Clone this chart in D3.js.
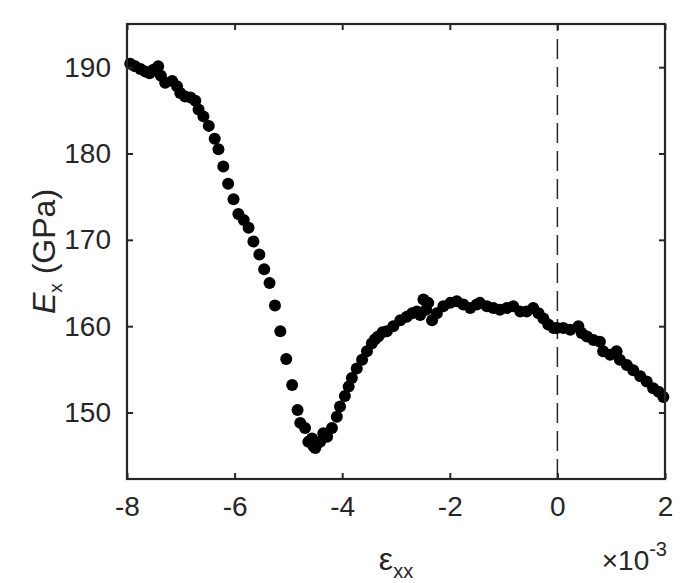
<!DOCTYPE html>
<html>
<head>
<meta charset="utf-8">
<script src="https://cdn.jsdelivr.net/npm/d3@7"></script>
<style>
  body { margin: 0; background: #fff; }
  text { font-family: "Liberation Sans", Arial, Helvetica, sans-serif; fill: #262626; }
</style>
</head>
<body>
<svg id="chart"></svg>
<script>
// strain (x 10^-3)
const strainXX = [
    -7.94, -7.85, -7.75, -7.66, -7.58, -7.51, -7.42, -7.37, -7.29, -7.16,
    -7.07, -7.01, -6.92, -6.82, -6.73, -6.67, -6.58, -6.48, -6.37, -6.30,
    -6.21, -6.12, -6.02, -5.93, -5.83, -5.74, -5.65, -5.54, -5.45, -5.35,
    -5.25, -5.15, -5.04, -4.93, -4.83, -4.78, -4.69, -4.63, -4.56, -4.53,
    -4.50, -4.47, -4.41, -4.35, -4.28, -4.19, -4.10, -4.04, -3.95, -3.88,
    -3.82, -3.73, -3.63, -3.54, -3.45, -3.39, -3.33, -3.25, -3.17, -3.05,
    -2.92, -2.80, -2.70, -2.61, -2.55, -2.49, -2.44, -2.40, -2.33, -2.24,
    -2.12, -1.99, -1.87, -1.75, -1.62, -1.50, -1.44, -1.31, -1.19, -1.07,
    -0.94, -0.82, -0.69, -0.57, -0.45, -0.35, -0.26, -0.17, -0.07, -0.01,
    0.11, 0.24, 0.39, 0.45, 0.55, 0.67, 0.79, 0.85, 0.98, 1.10,
    1.16, 1.29, 1.41, 1.54, 1.66, 1.78, 1.88, 1.97
];
// Young's modulus E_x (GPa)
const modulusEx = [
    190.4, 190.1, 189.8, 189.5, 189.3, 189.7, 190.1, 189.0, 188.2, 188.4,
    187.8, 187.0, 186.6, 186.5, 186.1, 185.1, 184.3, 183.2, 181.7, 180.5,
    178.5, 176.5, 174.7, 173.0, 172.3, 171.4, 169.8, 168.3, 166.6, 165.0,
    162.4, 159.4, 156.2, 153.2, 150.3, 148.8, 148.2, 146.6, 147.0, 146.1,
    145.9, 146.4, 146.6, 147.6, 147.2, 148.2, 149.5, 150.7, 151.9, 153.0,
    154.0, 155.1, 156.1, 157.1, 158.0, 158.5, 158.8, 159.3, 159.4, 160.0,
    160.7, 161.1, 161.5, 161.7, 161.3, 163.1, 161.9, 162.7, 160.7, 161.5,
    162.3, 162.7, 162.9, 162.5, 162.1, 162.5, 162.7, 162.3, 162.1, 161.9,
    162.1, 162.3, 161.7, 161.7, 162.1, 161.5, 160.9, 160.2, 159.8, 159.8,
    159.8, 159.6, 160.0, 159.2, 158.8, 158.4, 158.2, 157.1, 156.7, 157.1,
    156.1, 155.5, 154.9, 154.2, 153.6, 152.8, 152.4, 151.8
];
const xTicks = [-8, -6, -4, -2, 0, 2];
const yTicks = [150, 160, 170, 180, 190];

let width = 700;
let height = 583;
let marginLeft = 127;
let marginTop = 24;
let marginRight = 35;
let marginBottom = 104;

let svg = d3.select("#chart")
    .attr("width", width)
    .attr("height", height);

let scaleX = d3.scaleLinear()
    .domain([-8, 2])
    .range([marginLeft, width - marginRight]);
let scaleY = d3.scaleLinear()
    .domain([142.3, 195])
    .range([height - marginBottom, marginTop]);

let axisColor = "#262626";
let tickLen = 6;
let x0 = scaleX.range()[0], x1 = scaleX.range()[1];
let y0 = scaleY.range()[0], y1 = scaleY.range()[1];
let fmt = (d) => d < 0 ? "-" + Math.abs(d) : String(d);

// dashed line at zero strain
svg.append("line")
    .attr("x1", scaleX(0)).attr("x2", scaleX(0))
    .attr("y1", y0).attr("y2", y1)
    .attr("stroke", "#262626")
    .attr("stroke-width", 1.5)
    .attr("stroke-dasharray", "20,8");

// data points
svg.selectAll(".dot")
    .data(strainXX)
    .enter()
    .append("circle")
    .attr("class", "dot")
    .attr("cx", (d) => scaleX(d))
    .attr("cy", (d, i) => scaleY(modulusEx[i]))
    .attr("r", 6)
    .attr("fill", "#000");

// axes, ticks inside like MATLAB
svg.append("g")
    .attr("class", "labeled")
    .attr("transform", `translate(0, ${y0})`)
    .call(d3.axisBottom(scaleX).tickValues(xTicks).tickSizeInner(-tickLen).tickSizeOuter(0).tickPadding(17).tickFormat(fmt))
    .call(g => g.select(".domain").remove());
svg.append("g")
    .attr("transform", `translate(0, ${y1})`)
    .call(d3.axisTop(scaleX).tickValues(xTicks).tickSizeInner(-tickLen).tickSizeOuter(0).tickFormat(""))
    .call(g => g.select(".domain").remove());
svg.append("g")
    .attr("class", "labeled")
    .attr("transform", `translate(${x0}, 0)`)
    .call(d3.axisLeft(scaleY).tickValues(yTicks).tickSizeInner(-tickLen).tickSizeOuter(0).tickPadding(16).tickFormat(fmt))
    .call(g => g.select(".domain").remove());
svg.append("g")
    .attr("transform", `translate(${x1}, 0)`)
    .call(d3.axisRight(scaleY).tickValues(yTicks).tickSizeInner(-tickLen).tickSizeOuter(0).tickFormat(""))
    .call(g => g.select(".domain").remove());

svg.selectAll(".tick line").attr("stroke", axisColor).attr("stroke-width", 2);
svg.selectAll(".labeled .tick text")
    .attr("fill", axisColor)
    .style("font-size", "28px")
    .style("font-family", "'Liberation Sans', Arial, sans-serif");

// box
svg.append("rect")
    .attr("x", x0).attr("y", y1)
    .attr("width", x1 - x0).attr("height", y0 - y1)
    .attr("fill", "none")
    .attr("stroke", axisColor)
    .attr("stroke-width", 2.2);

// x label
let xLabel = svg.append("text")
    .attr("x", (x0 + x1) / 2)
    .attr("y", 570)
    .attr("text-anchor", "middle")
    .style("font-size", "32px");
xLabel.append("tspan").text("ε");
xLabel.append("tspan").attr("dy", 8).style("font-size", "20px").text("xx");

// exponent
let expLabel = svg.append("text")
    .attr("x", x1 + 2)
    .attr("y", 570)
    .attr("text-anchor", "end")
    .style("font-size", "28px");
expLabel.append("tspan").style("font-size", "28px").text("×10");
expLabel.append("tspan").attr("dy", -14).style("font-size", "20px").text("-3");

// y label
let yLabel = svg.append("text")
    .attr("transform", `translate(55, ${(y0 + y1) / 2}) rotate(-90)`)
    .attr("text-anchor", "middle")
    .style("font-size", "32px");
yLabel.append("tspan").style("font-style", "italic").text("E");
yLabel.append("tspan").attr("dy", 7).style("font-size", "19px").text("x");
yLabel.append("tspan").attr("dy", -7).text(" (GPa)");
</script>
</body>
</html>
